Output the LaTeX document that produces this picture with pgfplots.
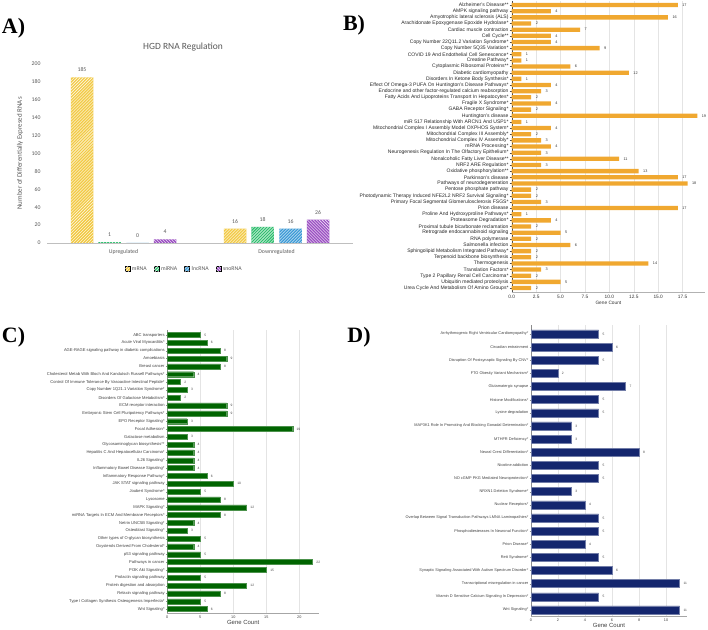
\documentclass[border=0pt]{standalone}
\usepackage{pgfplots}
\pgfplotsset{compat=1.18}
\usepackage{fontspec}
\setmainfont{Liberation Sans}
\newfontfamily\seriffont{Liberation Serif}
\newfontfamily\calibri{Carlito}
\usetikzlibrary{patterns}
\definecolor{cmrna}{RGB}{242,202,70}
\definecolor{cmirna}{RGB}{46,190,110}
\definecolor{clnc}{RGB}{60,154,214}
\definecolor{csno}{RGB}{155,80,195}
\definecolor{borange}{RGB}{240,168,48}
\definecolor{cgreen}{RGB}{0,100,0}
\definecolor{dnavy}{RGB}{20,38,110}
\definecolor{agray}{RGB}{89,89,89}
\definecolor{gridc}{RGB}{228,228,228}
\pgfplotsset{/pgf/number format/assume math mode=true}
\begin{document}
\begin{tikzpicture}
\path[use as bounding box] (0,0) rectangle (708bp,630bp);
% ---------------- Panel A ----------------
\begin{axis}[at={(47bp,387bp)}, anchor=south west, scale only axis,
  width=306bp, height=179bp,
  ybar, bar width=22.5bp,
  xmin=-0.5, xmax=1.5, ymin=0, ymax=200,
  xtick={0,1}, xticklabels={Upregulated,Downregulated},
  ytick={0,20,...,200},
  axis x line*=bottom, axis y line*=left,
  y axis line style={draw=none}, x axis line style={draw=black!25},
  major tick length=0pt,
  tick label style={font=\calibri\fontsize{5.8}{6}\selectfont, color=agray},
  yticklabel style={xshift=-3bp},
  xticklabel style={yshift=-3bp},
  ylabel={Number of Differentially Expresed RNAs},
  ylabel style={at={(axis description cs:-0.088,0.5)}, anchor=center, font=\calibri\fontsize{7}{8}\selectfont, color=agray},
  nodes near coords,
  nodes near coords style={font=\calibri\fontsize{5.8}{6}\selectfont, color=agray, yshift=2bp},
  legend style={at={(0.448,-0.145)}, anchor=center, draw=none, legend columns=4,
    font=\calibri\fontsize{5.8}{6}\selectfont, text=agray,
    /tikz/every even column/.append style={column sep=5bp}},
  legend image code/.code={\draw[#1] (0bp,-2.5bp) rectangle (5bp,2.5bp);},
]
\addplot[draw=none, fill=cmrna, bar shift=-41.5bp, postaction={pattern=north east lines, pattern color=white}] coordinates {(0,185) (1,16)};
\addplot[draw=none, fill=cmirna, bar shift=-14bp, postaction={pattern=north east lines, pattern color=white}] coordinates {(0,1) (1,18)};
\addplot[draw=none, fill=clnc, bar shift=14bp, postaction={pattern=north east lines, pattern color=white}] coordinates {(0,0) (1,16)};
\addplot[draw=none, fill=csno, bar shift=41.5bp, postaction={pattern=north west lines, pattern color=white}] coordinates {(0,4) (1,26)};
\legend{mRNA,miRNA,lncRNA,snoRNA}
\end{axis}
\node[font=\calibri\fontsize{9.5}{10}\selectfont, text=agray] at (183bp,583bp) {HGD RNA Regulation};
% ---------------- Panel B ----------------
\begin{axis}[at={(511.7bp,338.3bp)}, anchor=south west, scale only axis,
  width=193.4bp, height=290.3bp,
  xbar, bar width=4.3bp,
  xmin=0, xmax=19.8, ymin=-0.6, ymax=46.6, y dir=reverse,
  xtick={0,2.5,...,17.5},
  xticklabel style={/pgf/number format/fixed, /pgf/number format/precision=1, /pgf/number format/fixed zerofill},
  xmajorgrids, grid style={gridc, line width=0.4pt},
  axis x line*=bottom, axis y line*=left,
  x axis line style={draw=black!30}, y axis line style={draw=black!70},
  xtick style={draw=none}, ytick style={draw=black!70},
  major tick length=2bp, tick align=outside,
  ytick={0,...,46},
  yticklabels={{Alzheimer's Disease**},{AMPK signaling pathway},{Amyotrophic lateral sclerosis (ALS)},{Arachidonate Epoxygenase Epoxide Hydrolase*},{Cardiac muscle contraction},{Cell Cycle**},{Copy Number 22Q11.2 Variation Syndrome*},{Copy Number 5Q35 Variation*},{COVID 19 And Endothelial Cell Senescence*},{Creatine Pathway*},{Cytoplasmic Ribosomal Proteins**},{Diabetic cardiomyopathy},{Disorders In Ketone Body Synthesis*},{Effect Of Omega-3 PUFA On Huntington's Disease Pathways*},{Endocrine and other factor-regulated calcium reabsorption},{Fatty Acids And Lipoproteins Transport In Hepatocytes*},{Fragile X Syndrome*},{GABA Receptor Signaling*},{Huntington's disease},{miR 517 Relationship With ARCN1 And USP1*},{Mitochondrial Complex I Assembly Model OXPHOS System*},{Mitochondrial Complex III Assembly*},{Mitochondrial Complex IV Assembly*},{mRNA Processing*},{Neurogenesis Regulation In The Olfactory Epithelium*},{Nonalcoholic Fatty Liver Disease**},{NRF2 ARE Regulation*},{Oxidative phosphorylation**},{Parkinson's disease},{Pathways of neurodegeneration},{Pentose phosphate pathway},{Photodynamic Therapy Induced NFE2L2 NRF2 Survival Signaling*},{Primary Focal Segmental Glomerulosclerosis FSGS*},{Prion disease},{Proline And Hydroxyproline Pathways*},{Proteasome Degradation*},{Proximal tubule bicarbonate reclamation},{Retrograde endocannabinoid signaling},{RNA polymerase},{Salmonella infection},{Sphingolipid Metabolism Integrated Pathway*},{Terpenoid backbone biosynthesis},{Thermogenesis},{Translation Factors*},{Type 2 Papillary Renal Cell Carcinoma*},{Ubiquitin mediated proteolysis},{Urea Cycle And Metabolism Of Amino Groups*}},
  yticklabel style={font=\fontsize{5.05}{5.2}\selectfont, color=black!85, inner sep=1bp},
  xticklabel style={font=\fontsize{4.8}{5}\selectfont, color=black!80, inner sep=1.5bp},
  xlabel={Gene Count}, xlabel style={inner sep=1bp, font=\fontsize{4.8}{5}\selectfont, color=black!80},
  nodes near coords,
  nodes near coords style={font=\fontsize{3.8}{4}\selectfont, color=black!80, xshift=1bp},
]
\addplot[draw=none, fill=borange] coordinates {
(17,0) (4,1) (16,2) (2,3) (7,4) (4,5) (4,6) (9,7) (1,8) (1,9)
(6,10) (12,11) (1,12) (4,13) (3,14) (2,15) (4,16) (2,17) (19,18) (1,19)
(4,20) (2,21) (3,22) (4,23) (3,24) (11,25) (3,26) (13,27) (17,28) (18,29)
(2,30) (2,31) (3,32) (17,33) (1,34) (4,35) (2,36) (5,37) (2,38) (6,39)
(2,40) (2,41) (14,42) (3,43) (2,44) (5,45) (2,46)};
\end{axis}
% ---------------- Panel C ----------------
\begin{axis}[at={(167.3bp,17.3bp)}, anchor=south west, scale only axis,
  width=151.8bp, height=282.7bp,
  xbar, bar width=5bp,
  xmin=0, xmax=23, ymin=-0.64, ymax=35.46, y dir=reverse,
  xtick={0,5,...,20},
  xmajorgrids, grid style={gridc, line width=0.4pt},
  axis x line*=bottom, axis y line*=left,
  x axis line style={draw=black!35}, y axis line style={draw=black!45},
  major tick length=1.5bp, tick align=outside,
  tick style={draw=black!45},
  ytick={0,...,35},
  yticklabels={{ABC transporters},{Acute Viral Myocarditis*},{AGE-RAGE signaling pathway in diabetic complications},{Amoebiasis},{Breast cancer},{Cholesterol Metab With Bloch And Kandutsch Russell Pathways*},{Control Of Immune Tolerance By Vasoactive Intestinal Peptide*},{Copy Number 1Q21.1 Variation Syndrome*},{Disorders Of Galactose Metabolism*},{ECM receptor interaction},{Embryonic Stem Cell Pluripotency Pathways*},{EPO Receptor Signaling*},{Focal Adhesion*},{Galactose metabolism},{Glycosaminoglycan biosynthesis**},{Hepatitis C And Hepatocellular Carcinoma*},{IL26 Signaling*},{Inflammatory Bowel Disease Signaling*},{Inflammatory Response Pathway*},{JAK STAT signaling pathway},{Joubert Syndrome*},{Lysosome},{MAPK Signaling*},{miRNA Targets In ECM And Membrane Receptors*},{Netrin UNC5B Signaling*},{Osteoblast Signaling*},{Other types of O-glycan biosynthesis},{Oxysterols Derived From Cholesterol*},{p53 signaling pathway},{Pathways in cancer},{PI3K Akt Signaling*},{Prolactin signaling pathway},{Protein digestion and absorption},{Relaxin signaling pathway},{Type I Collagen Synthesis Osteogenesis Imperfecta*},{Wnt Signaling*}},
  yticklabel style={font=\fontsize{4.1}{4.3}\selectfont, color=black!75, inner sep=1bp},
  xticklabel style={font=\fontsize{3.8}{4}\selectfont, color=black!75, inner sep=1.2bp},
  xlabel={Gene Count}, xlabel style={inner sep=0.8bp, font=\fontsize{6}{6}\selectfont, color=black!75},
  nodes near coords,
  nodes near coords style={font=\fontsize{3.3}{4}\selectfont, color=black!75, xshift=0.5bp},
]
\addplot[draw=cgreen!70!white, line width=0.3pt, fill=cgreen] coordinates {
(5,0) (6,1) (8,2) (9,3) (8,4) (4,5) (2,6) (3,7) (2,8) (9,9)
(9,10) (3,11) (19,12) (3,13) (4,14) (4,15) (4,16) (4,17) (6,18) (10,19)
(5,20) (8,21) (12,22) (8,23) (4,24) (3,25) (5,26) (4,27) (5,28) (22,29)
(15,30) (5,31) (12,32) (8,33) (5,34) (6,35)};
\end{axis}
% ---------------- Panel D ----------------
\begin{axis}[at={(531bp,14.3bp)}, anchor=south west, scale only axis,
  width=156bp, height=290.7bp,
  xbar, bar width=8bp,
  xmin=0, xmax=11.55, ymin=-0.68, ymax=21.44, y dir=reverse,
  xtick={0,2,...,10},
  xmajorgrids, grid style={gridc, line width=0.4pt},
  axis x line*=bottom, axis y line*=left,
  x axis line style={draw=black!35}, y axis line style={draw=black!45},
  major tick length=1.5bp, tick align=outside,
  tick style={draw=black!45},
  ytick={0,...,21},
  yticklabels={{Arrhythmogenic Right Ventricular Cardiomyopathy*},{Circadian entrainment},{Disruption Of Postsynaptic Signaling By CNV*},{FTO Obesity Variant Mechanism*},{Glutamatergic synapse},{Histone Modifications*},{Lysine degradation},{MAP3K1 Role In Promoting And Blocking Gonadal Determination*},{MTHFR Deficiency*},{Neural Crest Differentiation*},{Nicotine addiction},{NO cGMP PKG Mediated Neuroprotection*},{NRXN1 Deletion Syndrome*},{Nuclear Receptors*},{Overlap Between Signal Transduction Pathways LMNA Laminopathies*},{Phosphodiesterases In Neuronal Function*},{Prion Disease*},{Rett Syndrome*},{Synaptic Signaling Associated With Autism Spectrum Disorder*},{Transcriptional misregulation in cancer},{Vitamin D Sensitive Calcium Signaling In Depression*},{Wnt Signaling*}},
  yticklabel style={font=\fontsize{3.9}{4.1}\selectfont, color=black!75, inner sep=1bp},
  xticklabel style={font=\fontsize{3.8}{4}\selectfont, color=black!75, inner sep=1.2bp},
  xlabel={Gene Count}, xlabel style={inner sep=0.8bp, font=\fontsize{6}{6}\selectfont, color=black!75},
  nodes near coords,
  nodes near coords style={font=\fontsize{3.3}{4}\selectfont, color=black!75, xshift=0.5bp},
]
\addplot[draw=dnavy!60!white, line width=0.3pt, fill=dnavy] coordinates {
(5,0) (6,1) (5,2) (2,3) (7,4) (5,5) (5,6) (3,7) (3,8) (8,9)
(5,10) (5,11) (3,12) (4,13) (5,14) (5,15) (4,16) (5,17) (6,18) (11,19)
(5,20) (11,21)};
\end{axis}
% ---------------- Panel letters ----------------
\node[font=\seriffont\bfseries\fontsize{22}{22}\selectfont] at (13.5bp,602bp) {A)};
\node[font=\seriffont\bfseries\fontsize{22}{22}\selectfont] at (354bp,605bp) {B)};
\node[font=\seriffont\bfseries\fontsize{22}{22}\selectfont] at (13.5bp,292.5bp) {C)};
\node[font=\seriffont\bfseries\fontsize{22}{22}\selectfont] at (359bp,292.5bp) {D)};
\end{tikzpicture}
\end{document}
